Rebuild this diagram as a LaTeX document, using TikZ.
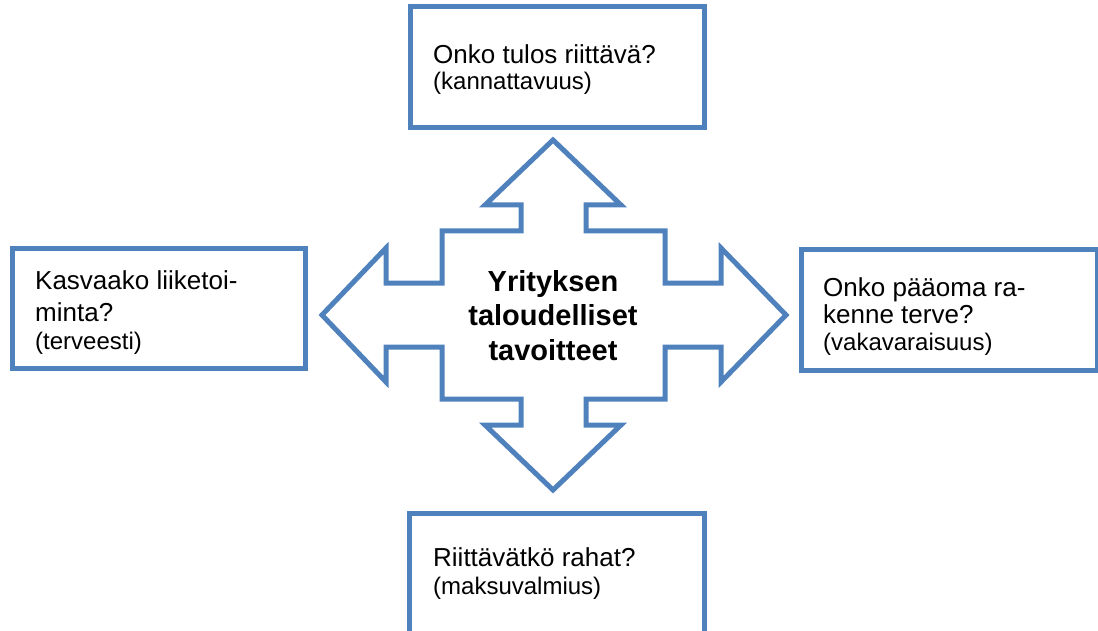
\documentclass[tikz,border=0pt]{standalone}
\usepackage{fontspec}
\setmainfont{Liberation Sans}
\definecolor{ofblue}{RGB}{79,129,189}
\tikzset{
  box/.style={draw=ofblue, line width=5pt, fill=white, inner sep=0pt},
  line/.style={anchor=base west, inner sep=0pt, font=\fontsize{26}{30}\selectfont},
  note/.style={anchor=base west, inner sep=0pt, font=\fontsize{24}{28}\selectfont},
  goal/.style={anchor=base, inner sep=0pt, font=\fontsize{29}{34}\selectfont\bfseries}
}
\begin{document}
\begin{tikzpicture}[x=1pt, y=-1pt]
    \useasboundingbox (0,0) rectangle (1098,631);
    \clip (0,0) rectangle (1098,631);
    % four boxes
    \node[box, minimum width=294pt, minimum height=121pt] (btop) at (557,67.5) {};
    \node[box, minimum width=293pt, minimum height=119pt] (bleft) at (158.5,308.5) {};
    \node[box, minimum width=296pt, minimum height=120pt] (bright) at (949,310) {};
    \node[box, minimum width=295pt, minimum height=147pt] (bbottom) at (556.5,586.5) {};
    % cross-shaped arrow
    \draw[ofblue, line width=5pt, fill=white] (553,140) -- (621,205) -- (586,205) -- (586,231) -- (665,231)
        -- (665,283) -- (721,283) -- (721,248) -- (786,315) -- (721,382) -- (721,347) -- (665,347)
        -- (665,399) -- (586,399) -- (586,425) -- (621,425) -- (553,490) -- (485,425) -- (521,425)
        -- (521,399) -- (442,399) -- (442,347) -- (386,347) -- (386,382) -- (322,315) -- (386,248)
        -- (386,283) -- (442,283) -- (442,231) -- (521,231) -- (521,205) -- (485,205) -- cycle;
    \node[goal] (g1) at (553,291) {Yrityksen};
    \node[goal] (g2) at (553,325) {taloudelliset};
    \node[goal] (g3) at (553,360) {tavoitteet};
    % texts in the boxes
    \node[line] (t1) at (433,64) {Onko tulos riittävä?};
    \node[note] (t2) at (433,90) {(kannattavuus)};
    \node[line] (l1) at (35,289) {Kasvaako liiketoi-};
    \node[line] (l2) at (35,321) {minta?};
    \node[note] (l3) at (35,349) {(terveesti)};
    \node[line] (r1) at (823,296) {Onko pääoma ra-};
    \node[line] (r2) at (823,323) {kenne terve?};
    \node[note] (r3) at (823,350) {(vakavaraisuus)};
    \node[line] (d1) at (433,566) {Riittävätkö rahat?};
    \node[note] (d2) at (433,594) {(maksuvalmius)};
\end{tikzpicture}
\end{document}
